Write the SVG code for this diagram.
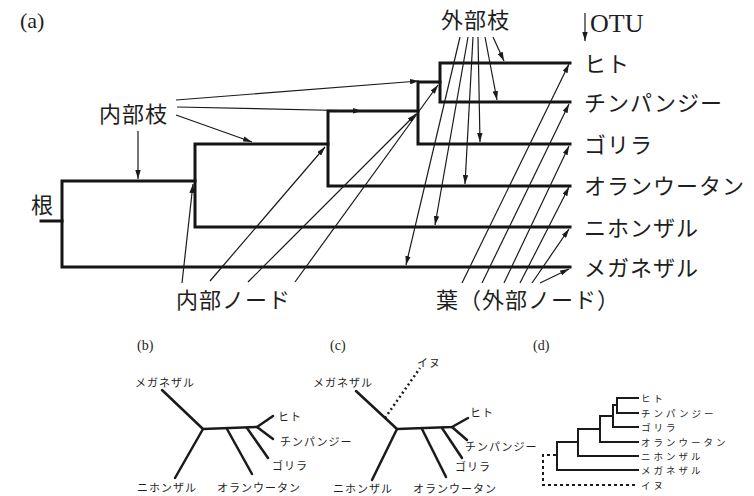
<svg xmlns="http://www.w3.org/2000/svg" width="754" height="496" viewBox="0 0 754 496">
<style>
.bg{fill:#fff}
.tree{fill:none;stroke:#151515;stroke-width:3;stroke-linecap:square;stroke-linejoin:miter}
.tree2{fill:none;stroke:#1a1a1a;stroke-width:2.5;stroke-linecap:round;stroke-linejoin:round}
.tree3{fill:none;stroke:#1a1a1a;stroke-width:2;stroke-linecap:square}
.dot{fill:none;stroke:#1a1a1a;stroke-width:2.5;stroke-dasharray:2 3}
.dash{fill:none;stroke:#1a1a1a;stroke-width:2;stroke-dasharray:3 3}
.arr{fill:none;stroke:#1a1a1a;stroke-width:1.2;marker-end:url(#ah)}
.jp{font-family:"Noto Sans CJK JP","Noto Sans",sans-serif;fill:#1e1e1e}
.big{font-size:22px;letter-spacing:1px}
.sm{font-size:11px;letter-spacing:1px}
.smd{font-size:9.5px;letter-spacing:3px}
.lat{font-family:"Liberation Serif","Times New Roman",serif;fill:#1e1e1e}
</style>
<defs>
<marker id="ah" viewBox="0 0 10 6" refX="10" refY="3" markerWidth="9" markerHeight="5.4" orient="auto" markerUnits="userSpaceOnUse">
<path d="M0,0 L10,3 L0,6 z" fill="#1a1a1a"/>
</marker>
</defs>
<rect class="bg" x="0" y="0" width="754" height="496"/>

<text class="lat" x="20" y="28" font-size="22">(a)</text>

<g id="tree-a">
<path class="tree" d="M41,221 H62"/>
<path class="tree" d="M195,181 H62 V267 H570"/>
<path class="tree" d="M328,144 H195 V227 H570"/>
<path class="tree" d="M418,111 H328 V186 H570"/>
<path class="tree" d="M440,82 H418 V144 H570"/>
<path class="tree" d="M570,63 H440 V102 H570"/>
</g>

<g id="leaves-a">
<g id="a-hito"><text class="jp big" x="584" y="72">ヒト</text></g>
<g id="a-chimp"><text class="jp big" x="584" y="111">チンパンジー</text></g>
<g id="a-gorilla"><text class="jp big" x="584" y="153">ゴリラ</text></g>
<g id="a-orang"><text class="jp big" x="584" y="194">オランウータン</text></g>
<g id="a-nihonzaru"><text class="jp big" x="584" y="236">ニホンザル</text></g>
<g id="a-meganezaru"><text class="jp big" x="584" y="276">メガネザル</text></g>
</g>

<g id="labels-a">
<g id="lbl-gaibushi"><text class="jp big" x="441" y="28">外部枝</text></g>
<g id="lbl-otu"><text class="lat" x="590" y="32" font-size="26">OTU</text></g>
<g id="lbl-naibushi"><text class="jp big" x="99" y="122">内部枝</text></g>
<g id="lbl-ne"><text class="jp big" x="31" y="213">根</text></g>
<g id="lbl-naibunode"><text class="jp big" x="176" y="308">内部ノード</text></g>
<g id="lbl-ha"><text class="jp big" x="436" y="308">葉（外部ノード）</text></g>
</g>

<g id="connectors">
<path class="arr" d="M585,13 L585,41"/>
<path class="arr" d="M176,100 L419,81"/>
<path class="arr" d="M177,107 L362,111"/>
<path class="arr" d="M176,115 L252,142"/>
<path class="arr" d="M138,131 L138,179"/>
<path class="arr" d="M182,283 L193,184"/>
<path class="arr" d="M210,281 L325,147"/>
<path class="arr" d="M248,282 L416,114"/>
<path class="arr" d="M295,282 L438,85"/>
<path class="arr" d="M493,37 L504,61"/>
<path class="arr" d="M485,37 L497,100"/>
<path class="arr" d="M478,37 L480,142"/>
<path class="arr" d="M473,37 L465,184"/>
<path class="arr" d="M468,37 L435,225"/>
<path class="arr" d="M460,37 L406,265"/>
<path class="arr" d="M462,283 L569,64"/>
<path class="arr" d="M482,283 L569,104"/>
<path class="arr" d="M504,283 L569,146"/>
<path class="arr" d="M520,283 L569,187"/>
<path class="arr" d="M532,283 L569,229"/>
<path class="arr" d="M540,283 L569,269"/>
</g>

<text class="lat" x="137" y="350" font-size="14">(b)</text>
<g id="tree-b">
<path class="tree2" d="M162,390 L203,429 L175,478"/>
<path class="tree2" d="M203,429 L257,427 L273,416"/>
<path class="tree2" d="M257,427 L273,439"/>
<path class="tree2" d="M227,429 L252,474"/>
<path class="tree2" d="M247,428 L268,458"/>
</g>
<g id="labels-b">
<text class="jp sm" x="135" y="387">メガネザル</text>
<text class="jp sm" x="278" y="421">ヒト</text>
<text class="jp sm" x="280" y="446">チンパンジー</text>
<text class="jp sm" x="272" y="470">ゴリラ</text>
<text class="jp sm" x="217" y="492">オランウータン</text>
<text class="jp sm" x="137" y="492">ニホンザル</text>
</g>

<text class="lat" x="330" y="350" font-size="14">(c)</text>
<g id="tree-c">
<path class="tree2" d="M356,391 L397,429 L372,480"/>
<path class="tree2" d="M397,429 L452,427 L468,418"/>
<path class="tree2" d="M452,427 L467,440"/>
<path class="tree2" d="M422,429 L446,477"/>
<path class="tree2" d="M442,428 L462,458"/>
<path class="dot" d="M385,418 L420,368"/>
</g>
<g id="labels-c">
<text class="jp sm" x="417" y="367">イヌ</text>
<text class="jp sm" x="313" y="387">メガネザル</text>
<text class="jp sm" x="470" y="417">ヒト</text>
<text class="jp sm" x="465" y="451">チンパンジー</text>
<text class="jp sm" x="455" y="471">ゴリラ</text>
<text class="jp sm" x="413" y="493">オランウータン</text>
<text class="jp sm" x="333" y="493">ニホンザル</text>
</g>

<text class="lat" x="533" y="350" font-size="14">(d)</text>
<g id="tree-d">
<path class="tree3" d="M638,398 H617 V413 H638"/>
<path class="tree3" d="M617,405 H613 V427 H638"/>
<path class="tree3" d="M613,416 H600 V442 H638"/>
<path class="tree3" d="M600,429 H578 V456 H638"/>
<path class="tree3" d="M578,442 H557 V470 H638"/>
<path class="dash" d="M556,455 H543 V485 H638"/>
</g>
<g id="labels-d">
<text class="jp smd" x="641" y="401.5">ヒト</text>
<text class="jp smd" x="641" y="416.5">チンパンジー</text>
<text class="jp smd" x="641" y="430.5">ゴリラ</text>
<text class="jp smd" x="641" y="445.5">オランウータン</text>
<text class="jp smd" x="641" y="459.5">ニホンザル</text>
<text class="jp smd" x="641" y="473.5">メガネザル</text>
<text class="jp smd" x="641" y="488.5">イヌ</text>
</g>
</svg>
